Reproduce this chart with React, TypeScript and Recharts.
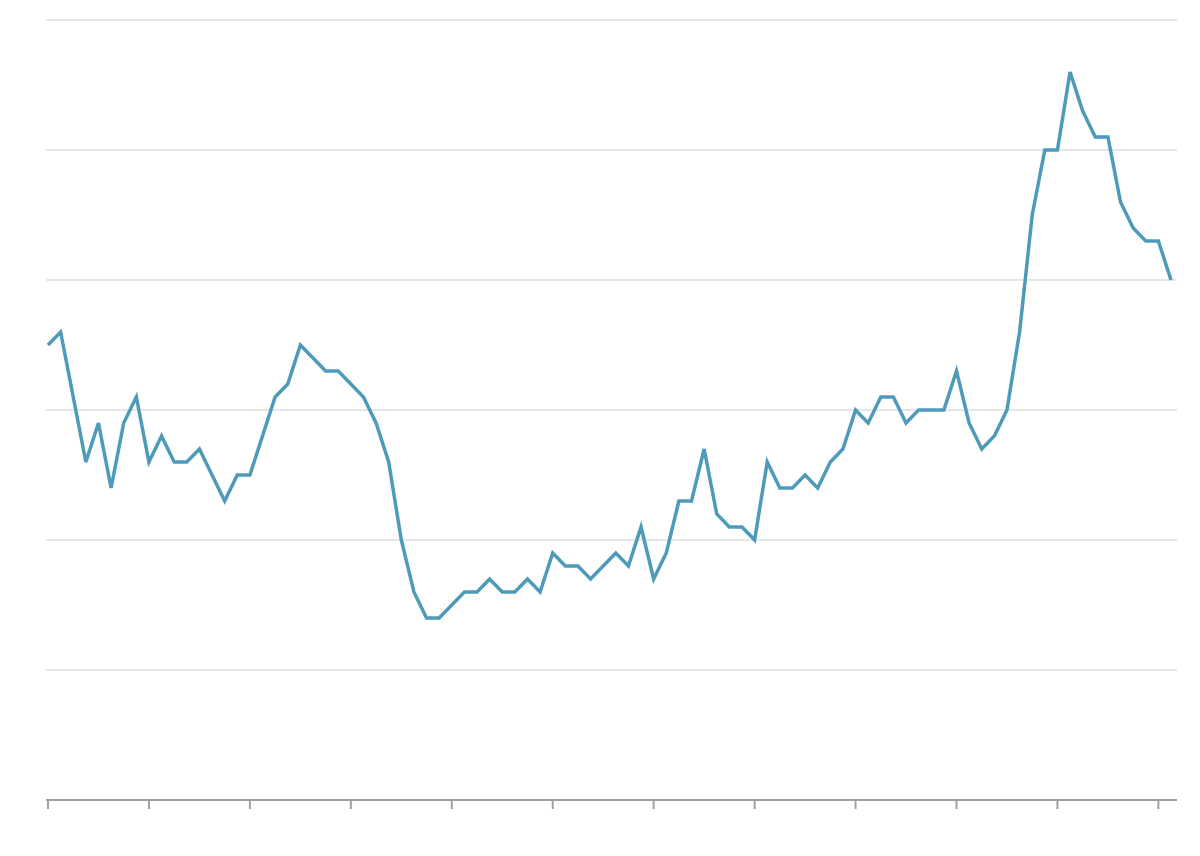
import React from "react";
import { LineChart, Line, XAxis, YAxis, CartesianGrid } from "recharts";

const values: number[] = [
  35, 36, 31, 26, 29, 24, 29, 31, 26, 28,
  26, 26, 27, 25, 23, 25, 25, 28, 31, 32,
  35, 34, 33, 33, 32, 31, 29, 26, 20, 16,
  14, 14, 15, 16, 16, 17, 16, 16, 17, 16,
  19, 18, 18, 17, 18, 19, 18, 21, 17, 19,
  23, 23, 27, 22, 21, 21, 20, 26, 24, 24,
  25, 24, 26, 27, 30, 29, 31, 31, 29, 30,
  30, 30, 33, 29, 27, 28, 30, 36, 45, 50,
  50, 56, 53, 51, 51, 46, 44, 43, 43, 40,
];

const xTicks: number[] = [0, 8, 16, 24, 32, 40, 48, 56, 64, 72, 80, 88];
const yTicks: number[] = [0, 10, 20, 30, 40, 50, 60];

const data = values.map((v, i) => ({ idx: i, value: v }));

export default function App() {
  return (
    <div style={{ width: 1184, height: 840 }}>
      <LineChart
        width={1184}
        height={840}
        data={data}
        margin={{ top: 12, right: 15, bottom: 18, left: 38 }}
      >
        <CartesianGrid
          vertical={false}
          stroke="#e6e6e6"
          strokeWidth={2}
        />
        <XAxis
          dataKey="idx"
          type="number"
          domain={[0, 89]}
          ticks={xTicks}
          padding={{ left: 2, right: 6 }}
          height={30}
          stroke="#a0a0a0"
          strokeWidth={2}
          tickSize={9}
          tickFormatter={() => ""}
        />
        <YAxis hide domain={[0, 60]} ticks={yTicks} />
        <Line
          type="linear"
          dataKey="value"
          stroke="#4e9bb9"
          strokeWidth={3.5}
          dot={false}
          isAnimationActive={false}
        />
      </LineChart>
    </div>
  );
}
